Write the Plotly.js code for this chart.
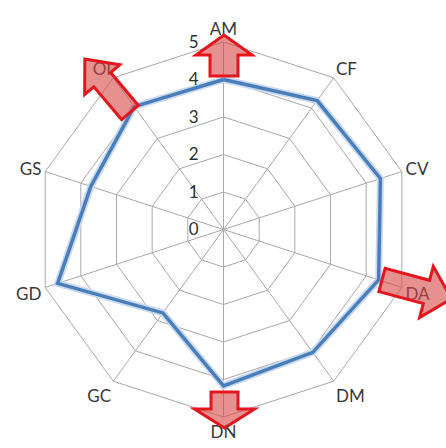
<!DOCTYPE html>
<html>
<head>
<meta charset="utf-8">
<script src="https://cdn.plot.ly/plotly-3.0.1.min.js"></script>
<style>html,body{margin:0;padding:0;background:#fff;}#chart{width:446px;height:448px;}</style>
</head>
<body>
<div id="chart"></div>
<script>
// ---- data ----
const categories = ["AM", "CF", "CV", "DA", "DM", "DN", "GC", "GD", "GS", "OI"];
const values = [4.0, 4.25, 4.4, 4.35, 4.05, 4.17, 2.75, 4.65, 3.72, 4.05];
const radialTicks = [0, 1, 2, 3, 4, 5];
const highlighted = ["AM", "OI", "DA", "DN"]; // categories marked with arrows

const thetaClosed = categories.concat([categories[0]]);
const rClosed = values.concat([values[0]]);

// ---- layout geometry ----
const M = {l: 36, r: 35, t: 42, b: 31};
const W = 446 - M.l - M.r, H = 448 - M.t - M.b;
function px2paper(x, y) { return [(x - M.l) / W, 1 - (y - M.t) / H]; }

// arrow decoration: tail centre (px), direction (deg), length, shaft width, head width, head length
function arrowPath(tx, ty, deg, L, sw, hw, hl) {
  const a = deg * Math.PI / 180;
  const ux = Math.cos(a), uy = Math.sin(a), nx = -uy, ny = ux;
  const b = L - hl;
  const pts = [
    [tx + nx * sw / 2, ty + ny * sw / 2],
    [tx + ux * b + nx * sw / 2, ty + uy * b + ny * sw / 2],
    [tx + ux * b + nx * hw / 2, ty + uy * b + ny * hw / 2],
    [tx + ux * L, ty + uy * L],
    [tx + ux * b - nx * hw / 2, ty + uy * b - ny * hw / 2],
    [tx + ux * b - nx * sw / 2, ty + uy * b - ny * sw / 2],
    [tx - nx * sw / 2, ty - ny * sw / 2]
  ].map(p => px2paper(p[0], p[1]));
  return "M" + pts.map(p => p[0].toFixed(4) + "," + p[1].toFixed(4)).join("L") + "Z";
}
const arrowSpecs = {
  AM: [224, 76, -90, 41, 28, 56, 20],
  DN: [224.5, 392, 90, 36, 27, 60, 19],
  OI: [130, 112.5, -130.2, 70, 22, 46, 27],
  DA: [382, 280, 15, 72, 24, 53, 26]
};
const shapes = highlighted.map(k => ({
  type: "path", xref: "paper", yref: "paper", layer: "above",
  path: arrowPath.apply(null, arrowSpecs[k]),
  fillcolor: "rgba(214,70,70,0.6)",
  line: {color: "#e3161d", width: 3}
}));

const gridCol = "#a9a9a9";
const traces = [
  {type: "scatterpolar", r: rClosed, theta: thetaClosed, mode: "lines",
   line: {color: "#c9d9ee", width: 7}, hoverinfo: "skip", showlegend: false},
  {type: "scatterpolar", r: rClosed, theta: thetaClosed, mode: "lines",
   line: {color: "#4a7ebb", width: 3.5}, showlegend: false}
];

const layout = {
  width: 446, height: 448,
  margin: M,
  paper_bgcolor: "#fff",
  showlegend: false,
  font: {family: "Lato, 'Open Sans', sans-serif", color: "#404040", size: 17},
  polar: {
    bgcolor: "#fff",
    gridshape: "linear",
    domain: {x: [0, 1], y: [0, 1]},
    angularaxis: {
      direction: "clockwise", rotation: 90, type: "category",
      categoryarray: categories,
      showline: true, linecolor: gridCol, linewidth: 1,
      gridcolor: gridCol, gridwidth: 1, ticks: "",
      tickfont: {size: 17, color: "#383838"}
    },
    radialaxis: {
      range: [0, 5], tickvals: radialTicks,
      ticktext: radialTicks.map(v => String(v) + "\u00a0\u00a0\u00a0\u00a0\u00a0"),
      angle: 90, side: "counterclockwise", tickangle: 90,
      showline: false, ticks: "", gridcolor: gridCol, gridwidth: 1,
      tickfont: {size: 17, color: "#303030"}
    }
  },
  shapes: shapes
};

Plotly.newPlot("chart", traces, layout, {displayModeBar: false, staticPlot: true});
</script>
</body>
</html>
